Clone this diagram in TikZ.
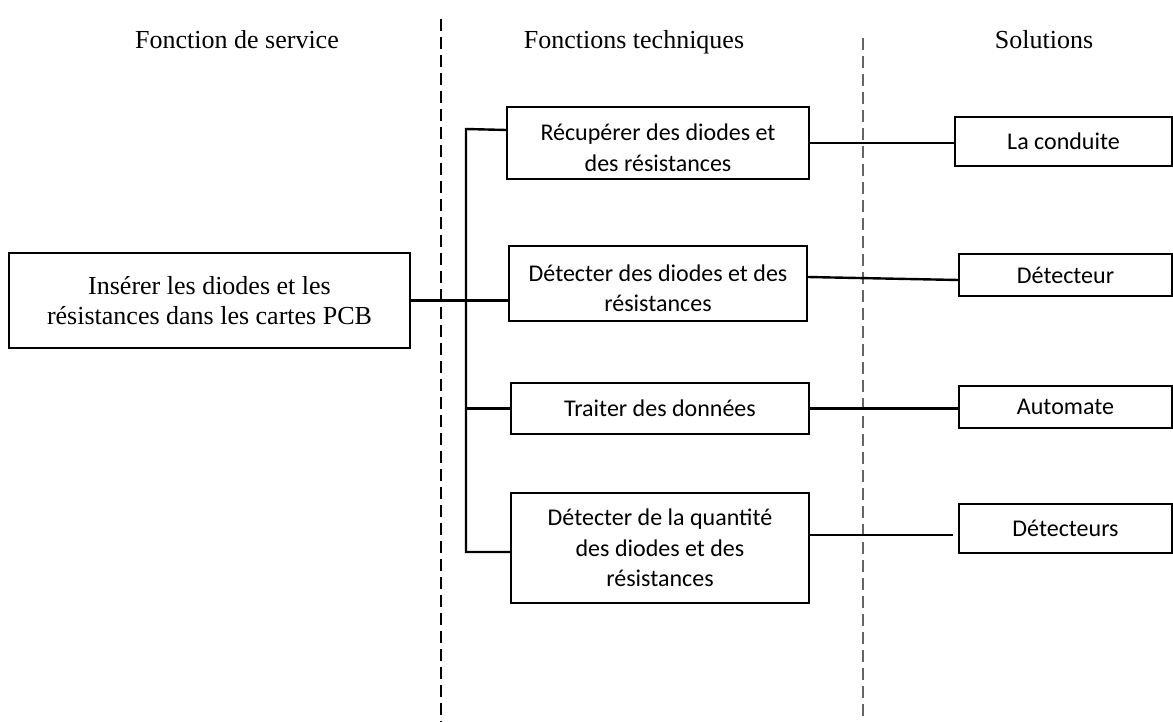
\documentclass[tikz,border=0pt]{standalone}
\usepackage{fontspec}
\setmainfont{Liberation Serif}
\newfontfamily\boxfont{Carlito}
\usetikzlibrary{calc}
% taller first line, pushes two-line captions slightly down
\newcommand\topstrut{\rule{0pt}{26pt}}

\begin{document}
\begin{tikzpicture}[x=1pt,y=-1pt,
  every node/.style={inner sep=0pt},
  head/.style={anchor=base, font=\fontsize{26}{30}\selectfont},
  svc/.style={draw, line width=1.2pt, align=center, font=\fontsize{26}{30}\selectfont},
  fbox/.style={draw, line width=1.2pt, align=center, font=\boxfont\fontsize{24}{30.5}\selectfont},
  conn/.style={line width=2.4pt},
  sep/.style={line width=1.5pt, dash pattern=on 12pt off 6pt}]

\useasboundingbox (0,0) rectangle (1173,722);

% column separators
\coordinate (s1t) at (441,19);
\coordinate (s1b) at (441,722);
\coordinate (s2t) at (863,38);
\coordinate (s2b) at (863,722);
\draw[sep] (s1t) -- (s1b);
\draw[sep, black!60] (s2t) -- (s2b);

% column headings
\node[head] (h1) at (237,49) {Fonction de service};
\node[head] (h2) at (634,49) {Fonctions techniques};
\node[head] (h3) at (1044,49) {Solutions};

% service function
\node[svc, minimum width=401pt, minimum height=95pt] (L) at (209.5,300.5)
  {Insérer les diodes et les\\résistances dans les cartes PCB};

% technical functions
\node[fbox, minimum width=302pt, minimum height=72pt] (R) at (658,143)
  {\topstrut Récupérer des diodes et\\des résistances};
\node[fbox, minimum width=298pt, minimum height=75pt] (D) at (658,283.5)
  {\topstrut Détecter des diodes et des\\résistances};
\node[fbox, minimum width=298pt, minimum height=51pt] (T) at (660,408.5)
  {Traiter des données};
\node[fbox, minimum width=298pt, minimum height=110pt] (Q) at (660,548)
  {Détecter de la quantité\\des diodes et des\\résistances};

% solutions
\node[fbox, minimum width=217pt, minimum height=49pt] (C) at (1063.5,141.5) {La conduite};
\node[fbox, minimum width=213pt, minimum height=42pt] (Det) at (1065.5,275) {Détecteur};
\node[fbox, minimum width=213pt, minimum height=42pt] (A) at (1065.5,407) {Automate};
\node[fbox, minimum width=213pt, minimum height=49pt] (Ds) at (1065.5,528.5) {Détecteurs};

% tree connectors
\coordinate (bt) at (466,129);
\coordinate (bb) at (466,552);
\coordinate (qend) at (953,535);
\draw[conn] ([yshift=13pt]R.west) -- (bt) -- (bb) -- ([yshift=-4pt]Q.west);
\draw[conn] (L.east) -- (L.east -| D.west);
\draw[conn] (bt |- T.west) -- (T.west);
\draw[conn] (R.east) -- (R.east -| C.west);
\draw[conn] ([yshift=6.5pt]D.east) -- ([yshift=-5pt]Det.west);
\draw[conn] (T.east) -- (T.east -| A.west);
\draw[conn] ([yshift=13pt]Q.east) -- (qend);
\end{tikzpicture}
\end{document}
